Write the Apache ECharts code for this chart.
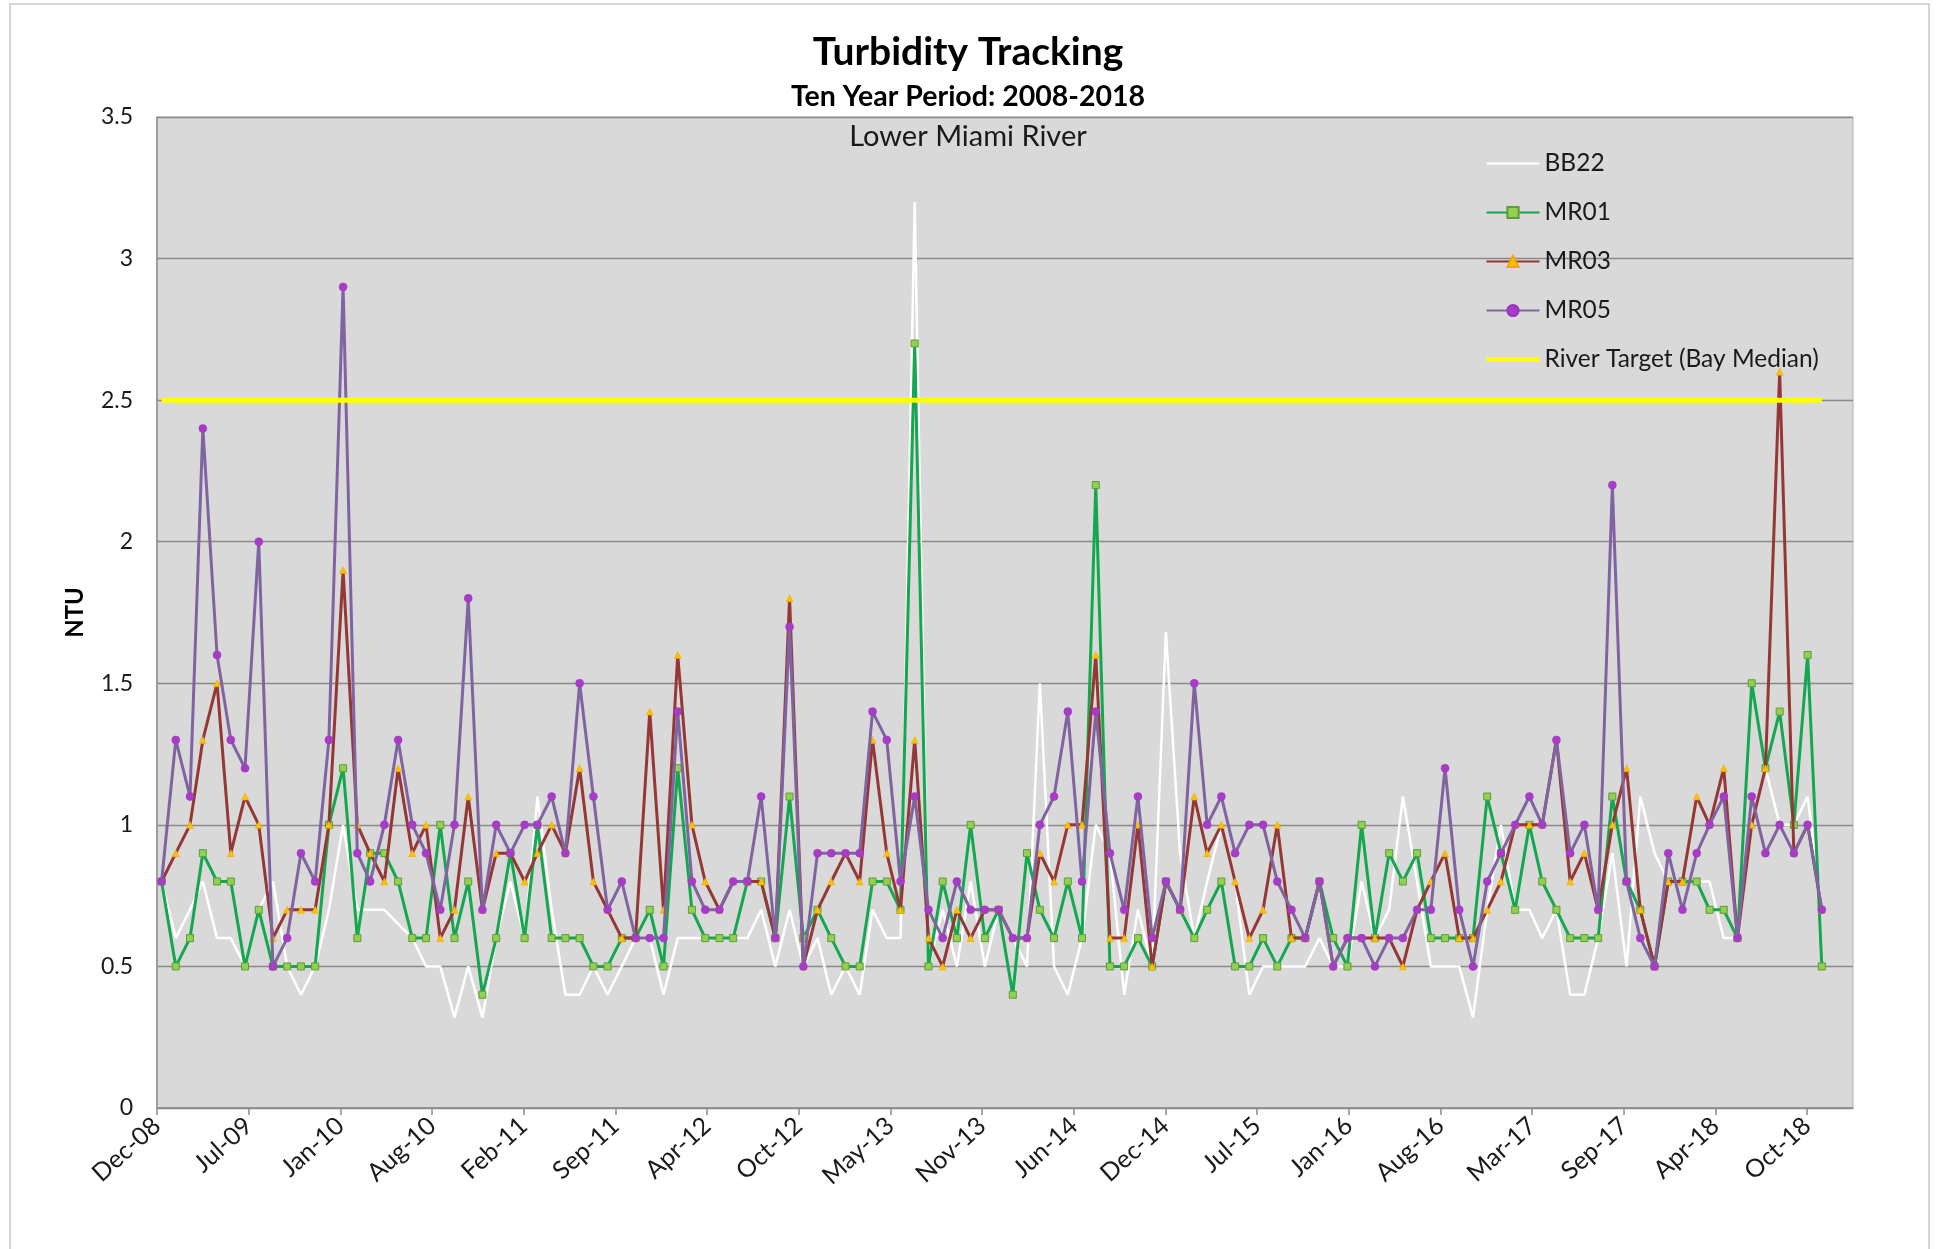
<!DOCTYPE html>
<html>
<head>
<meta charset="utf-8">
<title>Turbidity Tracking</title>
<script src="https://cdn.jsdelivr.net/npm/echarts@6/dist/echarts.min.js"></script>
<style>
  html, body { margin: 0; padding: 0; background: #fff; }
  #main { width: 1937px; height: 1249px; }
</style>
</head>
<body>
<div id="main"></div>
<script>
// monthly samples, Dec 2008 .. Nov 2018 (NTU)
var bb22 = [
  0.8, 0.6, 0.7, 0.8, 0.6, 0.6, 0.5, 0.7, 0.8, 0.5,
  0.4, 0.5, 0.7, 1.0, 0.7, 0.7, 0.7, 0.65, 0.6, 0.5,
  0.5, 0.32, 0.5, 0.32, 0.6, 0.8, 0.6, 1.1, 0.7, 0.4,
  0.4, 0.5, 0.4, 0.5, 0.6, 0.6, 0.4, 0.6, 0.6, 0.6,
  0.6, 0.6, 0.6, 0.7, 0.5, 0.7, 0.5, 0.6, 0.4, 0.5,
  0.4, 0.7, 0.6, 0.6, 3.2, 0.5, 0.7, 0.5, 0.8, 0.5,
  0.7, 0.6, 0.5, 1.5, 0.5, 0.4, 0.6, 1.0, 0.9, 0.4,
  0.7, 0.5, 1.68, 0.9, 0.6, 0.8, 1.0, 0.8, 0.4, 0.5,
  0.5, 0.5, 0.5, 0.6, 0.5, 0.5, 0.8, 0.6, 0.7, 1.1,
  0.8, 0.5, 0.5, 0.5, 0.32, 0.7, 1.0, 0.7, 0.7, 0.6,
  0.7, 0.4, 0.4, 0.6, 0.9, 0.5, 1.1, 0.9, 0.8, 0.8,
  0.8, 0.8, 0.6, 0.6, 1.0, 1.2, 1.0, 1.0, 1.1, 0.7
];
var mr01 = [
  0.8, 0.5, 0.6, 0.9, 0.8, 0.8, 0.5, 0.7, 0.5, 0.5,
  0.5, 0.5, 1.0, 1.2, 0.6, 0.9, 0.9, 0.8, 0.6, 0.6,
  1.0, 0.6, 0.8, 0.4, 0.6, 0.9, 0.6, 1.0, 0.6, 0.6,
  0.6, 0.5, 0.5, 0.6, 0.6, 0.7, 0.5, 1.2, 0.7, 0.6,
  0.6, 0.6, 0.8, 0.8, 0.6, 1.1, 0.6, 0.7, 0.6, 0.5,
  0.5, 0.8, 0.8, 0.7, 2.7, 0.5, 0.8, 0.6, 1.0, 0.6,
  0.7, 0.4, 0.9, 0.7, 0.6, 0.8, 0.6, 2.2, 0.5, 0.5,
  0.6, 0.5, 0.8, 0.7, 0.6, 0.7, 0.8, 0.5, 0.5, 0.6,
  0.5, 0.6, 0.6, 0.8, 0.6, 0.5, 1.0, 0.6, 0.9, 0.8,
  0.9, 0.6, 0.6, 0.6, 0.6, 1.1, 0.9, 0.7, 1.0, 0.8,
  0.7, 0.6, 0.6, 0.6, 1.1, 0.8, 0.7, 0.5, 0.8, 0.8,
  0.8, 0.7, 0.7, 0.6, 1.5, 1.2, 1.4, 1.0, 1.6, 0.5
];
var mr03 = [
  0.8, 0.9, 1.0, 1.3, 1.5, 0.9, 1.1, 1.0, 0.6, 0.7,
  0.7, 0.7, 1.0, 1.9, 1.0, 0.9, 0.8, 1.2, 0.9, 1.0,
  0.6, 0.7, 1.1, 0.7, 0.9, 0.9, 0.8, 0.9, 1.0, 0.9,
  1.2, 0.8, 0.7, 0.6, 0.6, 1.4, 0.7, 1.6, 1.0, 0.8,
  0.7, 0.8, 0.8, 0.8, 0.6, 1.8, 0.5, 0.7, 0.8, 0.9,
  0.8, 1.3, 0.9, 0.7, 1.3, 0.6, 0.5, 0.7, 0.6, 0.7,
  0.7, 0.6, 0.6, 0.9, 0.8, 1.0, 1.0, 1.6, 0.6, 0.6,
  1.0, 0.5, 0.8, 0.7, 1.1, 0.9, 1.0, 0.8, 0.6, 0.7,
  1.0, 0.6, 0.6, 0.8, 0.5, 0.6, 0.6, 0.6, 0.6, 0.5,
  0.7, 0.8, 0.9, 0.6, 0.6, 0.7, 0.8, 1.0, 1.0, 1.0,
  1.3, 0.8, 0.9, 0.7, 1.0, 1.2, 0.7, 0.5, 0.8, 0.8,
  1.1, 1.0, 1.2, 0.6, 1.0, 1.2, 2.6, 0.9, 1.0, 0.7
];
var mr05 = [
  0.8, 1.3, 1.1, 2.4, 1.6, 1.3, 1.2, 2.0, 0.5, 0.6,
  0.9, 0.8, 1.3, 2.9, 0.9, 0.8, 1.0, 1.3, 1.0, 0.9,
  0.7, 1.0, 1.8, 0.7, 1.0, 0.9, 1.0, 1.0, 1.1, 0.9,
  1.5, 1.1, 0.7, 0.8, 0.6, 0.6, 0.6, 1.4, 0.8, 0.7,
  0.7, 0.8, 0.8, 1.1, 0.6, 1.7, 0.5, 0.9, 0.9, 0.9,
  0.9, 1.4, 1.3, 0.8, 1.1, 0.7, 0.6, 0.8, 0.7, 0.7,
  0.7, 0.6, 0.6, 1.0, 1.1, 1.4, 0.8, 1.4, 0.9, 0.7,
  1.1, 0.6, 0.8, 0.7, 1.5, 1.0, 1.1, 0.9, 1.0, 1.0,
  0.8, 0.7, 0.6, 0.8, 0.5, 0.6, 0.6, 0.5, 0.6, 0.6,
  0.7, 0.7, 1.2, 0.7, 0.5, 0.8, 0.9, 1.0, 1.1, 1.0,
  1.3, 0.9, 1.0, 0.7, 2.2, 0.8, 0.6, 0.5, 0.9, 0.7,
  0.9, 1.0, 1.1, 0.6, 1.1, 0.9, 1.0, 0.9, 1.0, 0.7
];
var riverTarget = 2.5;
var seriesNames = ['BB22', 'MR01', 'MR03', 'MR05', 'River Target (Bay Median)'];
var yTicks = [0, 0.5, 1, 1.5, 2, 2.5, 3, 3.5];

var MONTHS = ['Jan','Feb','Mar','Apr','May','Jun','Jul','Aug','Sep','Oct','Nov','Dec'];
var DAY = 86400000;
// excel date axis: starts 18 Dec 2008, major unit 200 days
var axisStart = Date.UTC(2008, 11, 18);

// sampling dates (28th of each month from Dec 2008), as days on the axis
var sampleDays = [];
for (var i = 0; i < mr05.length; i++) {
  sampleDays.push((Date.UTC(2008, 11 + i, 28) - axisStart) / DAY);
}

function pairs(vals) {
  return vals.map(function (v, i) { return [sampleDays[i], v]; });
}

function dayLabel(v) {
  var d = new Date(axisStart + v * DAY);
  return MONTHS[d.getUTCMonth()] + '-' + String(d.getUTCFullYear()).slice(2);
}

var FONT = 'Lato, "Open Sans", sans-serif';

var chart = echarts.init(document.getElementById('main'));
chart.setOption({
  animation: false,
  backgroundColor: '#ffffff',
  graphic: [
    { type: 'rect', silent: true, z: -10,
      shape: { x: 10, y: 4, width: 1919, height: 1260 },
      style: { fill: 'none', stroke: '#c9c9c9', lineWidth: 1.5 } },
    { type: 'text', x: 968, y: 52, z: 10,
      style: { text: 'Turbidity Tracking', fontFamily: FONT, fontWeight: 'bold', fontSize: 39,
               fill: '#000', align: 'center', verticalAlign: 'middle' } },
    { type: 'text', x: 968, y: 97, z: 10,
      style: { text: 'Ten Year Period: 2008-2018', fontFamily: FONT, fontWeight: 'bold', fontSize: 28.5,
               fill: '#000', align: 'center', verticalAlign: 'middle' } },
    { type: 'text', x: 968, y: 137, z: 10,
      style: { text: 'Lower Miami River', fontFamily: FONT, fontSize: 29,
               fill: '#1a1a1a', align: 'center', verticalAlign: 'middle' } }
  ],
  legend: {
    orient: 'vertical',
    left: 1484,
    top: 151,
    padding: 0,
    itemWidth: 53,
    itemHeight: 14,
    itemGap: 24,
    data: [
      { name: seriesNames[0], itemStyle: { opacity: 0 } },
      { name: seriesNames[1] },
      { name: seriesNames[2] },
      { name: seriesNames[3] },
      { name: seriesNames[4], itemStyle: { opacity: 0 }, lineStyle: { width: 5 } }
    ],
    textStyle: { fontFamily: FONT, fontSize: 24.5, color: '#1a1a1a', lineHeight: 23, padding: [0, 0, 0, 0] }
  },
  grid: {
    left: 157, right: 84, top: 117, bottom: 141,
    show: true,
    backgroundColor: '#d9d9d9',
    borderColor: '#b3b3b3',
    borderWidth: 1
  },
  xAxis: {
    type: 'value',
    min: 0,
    max: 3700,
    interval: 200,
    splitLine: { show: false },
    axisLine: { show: true, onZero: false, lineStyle: { color: '#8c8c8c', width: 1.5 } },
    axisTick: { show: true, length: 7, lineStyle: { color: '#8c8c8c', width: 1.5 } },
    axisLabel: {
      rotate: 42,
      margin: 14,
      showMaxLabel: false,
      fontFamily: FONT,
      fontSize: 25,
      color: '#1a1a1a',
      formatter: dayLabel
    }
  },
  yAxis: {
    type: 'value',
    min: yTicks[0],
    max: yTicks[yTicks.length - 1],
    interval: 0.5,
    name: 'NTU',
    nameLocation: 'middle',
    nameGap: 70,
    nameRotate: 90,
    nameTextStyle: { fontFamily: FONT, fontWeight: 'bold', fontSize: 24, color: '#000' },
    axisLine: { show: true, lineStyle: { color: '#8c8c8c', width: 1.5 } },
    axisTick: { show: false },
    splitLine: { show: true, lineStyle: { color: '#8a8a8a', width: 1.3 } },
    axisLabel: {
      margin: 24,
      fontFamily: FONT,
      fontSize: 23,
      color: '#1a1a1a',
      formatter: function (v) { return String(v); }
    }
  },
  series: [
    {
      name: seriesNames[0], type: 'line', data: pairs(bb22),
      symbol: 'none',
      lineStyle: { color: '#ffffff', width: 2.5 },
      itemStyle: { color: '#ffffff' },
      z: 2
    },
    {
      name: seriesNames[1], type: 'line', data: pairs(mr01),
      symbol: 'rect', symbolSize: 7, showSymbol: true,
      lineStyle: { color: '#13a84f', width: 3 },
      itemStyle: { color: '#92d050', borderColor: '#5e9c3a', borderWidth: 1 },
      z: 3
    },
    {
      name: seriesNames[2], type: 'line', data: pairs(mr03),
      symbol: 'triangle', symbolSize: 7, showSymbol: true,
      lineStyle: { color: '#953735', width: 3 },
      itemStyle: { color: '#ffc000', borderColor: '#f0a800', borderWidth: 0.5 },
      z: 4
    },
    {
      name: seriesNames[3], type: 'line', data: pairs(mr05),
      symbol: 'circle', symbolSize: 8, showSymbol: true,
      lineStyle: { color: '#8064a2', width: 3 },
      itemStyle: { color: '#a83cc8', borderColor: '#9a34bb', borderWidth: 0.5 },
      z: 5
    },
    {
      name: seriesNames[4], type: 'line',
      data: [[sampleDays[0], riverTarget], [sampleDays[sampleDays.length - 1], riverTarget]],
      symbol: 'none',
      lineStyle: { color: '#ffff00', width: 5 },
      itemStyle: { color: '#ffff00' },
      z: 6
    }
  ]
});
</script>
</body>
</html>
